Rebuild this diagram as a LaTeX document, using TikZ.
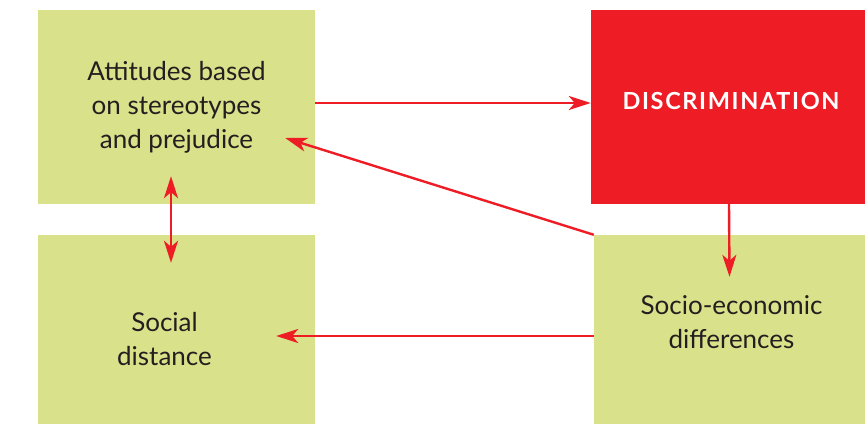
\documentclass[tikz,border=0pt]{standalone}
\usepackage{fontspec}
\setmainfont{Lato}
\newfontfamily\capsfont[LetterSpace=7]{Lato}
\usetikzlibrary{arrows.meta,positioning}
\definecolor{boxgreen}{RGB}{217,225,138}
\definecolor{boxred}{RGB}{238,29,37}
\definecolor{textgray}{RGB}{35,31,32}
\tikzset
{
    greenbox/.style = {fill=boxgreen, draw=none, inner sep=0pt},
    redbox/.style   = {fill=boxred, draw=none, inner sep=0pt},
    boxtext/.style  = {align=center, text=textgray, font=\fontsize{26}{34}\selectfont},
    link/.style     = {draw=boxred, line width=2.4pt, -{Stealth[length=22pt, width=14pt, inset=6pt]}}
}

\begin{document}
\begin{tikzpicture}[x=1pt, y=-1pt]
    \useasboundingbox (0,0) rectangle (865,425);
    % boxes
    \node [greenbox, minimum width=277pt, minimum height=194pt] (attitudes) at (176.5,107) {};
    \node [greenbox, minimum width=277pt, minimum height=189pt] (social) at (176.5,329.5) {};
    \node [redbox, minimum width=274pt, minimum height=194pt] (discr) at (728,107) {};
    \node [greenbox, minimum width=271pt, minimum height=189pt] (socio) at (729.5,329.5) {};
    % texts
    \node [boxtext] (attitudestext) at (attitudes.center) {Attitudes based\\on stereotypes\\and prejudice};
    \node [boxtext, text=white, font=\capsfont\bfseries\fontsize{23.5}{24}\selectfont] (discrtext) at ([shift={(3,-6)}]discr.center) {DISCRIMINATION};
    \node [boxtext] (sociotext) at ([shift={(2,-7.5)}]socio.center) {Socio-economic\\differences};
    \node [boxtext] (socialtext) at ([shift={(-12,10)}]social.center) {Social\\distance};
    % connectors
    \draw [link] ([yshift=4pt]attitudes.east) -- ([yshift=4pt]discr.west);
    \draw [link, {Stealth[length=22pt, width=14pt, inset=6pt]}-{Stealth[length=22pt, width=14pt, inset=6pt]}]
        ([shift={(-5.5,-28)}]attitudes.south) -- ([shift={(-5.5,28)}]social.north);
    \draw [link] ([xshift=1pt]discr.south) -- ([yshift=-42pt]socio.north);
    \draw [link] (socio.north west) -- ([shift={(-30,31)}]attitudes.east);
    \draw [link] ([yshift=-6.5pt]socio.west) -- ([shift={(-39,6.5)}]social.east);
\end{tikzpicture}
\end{document}
